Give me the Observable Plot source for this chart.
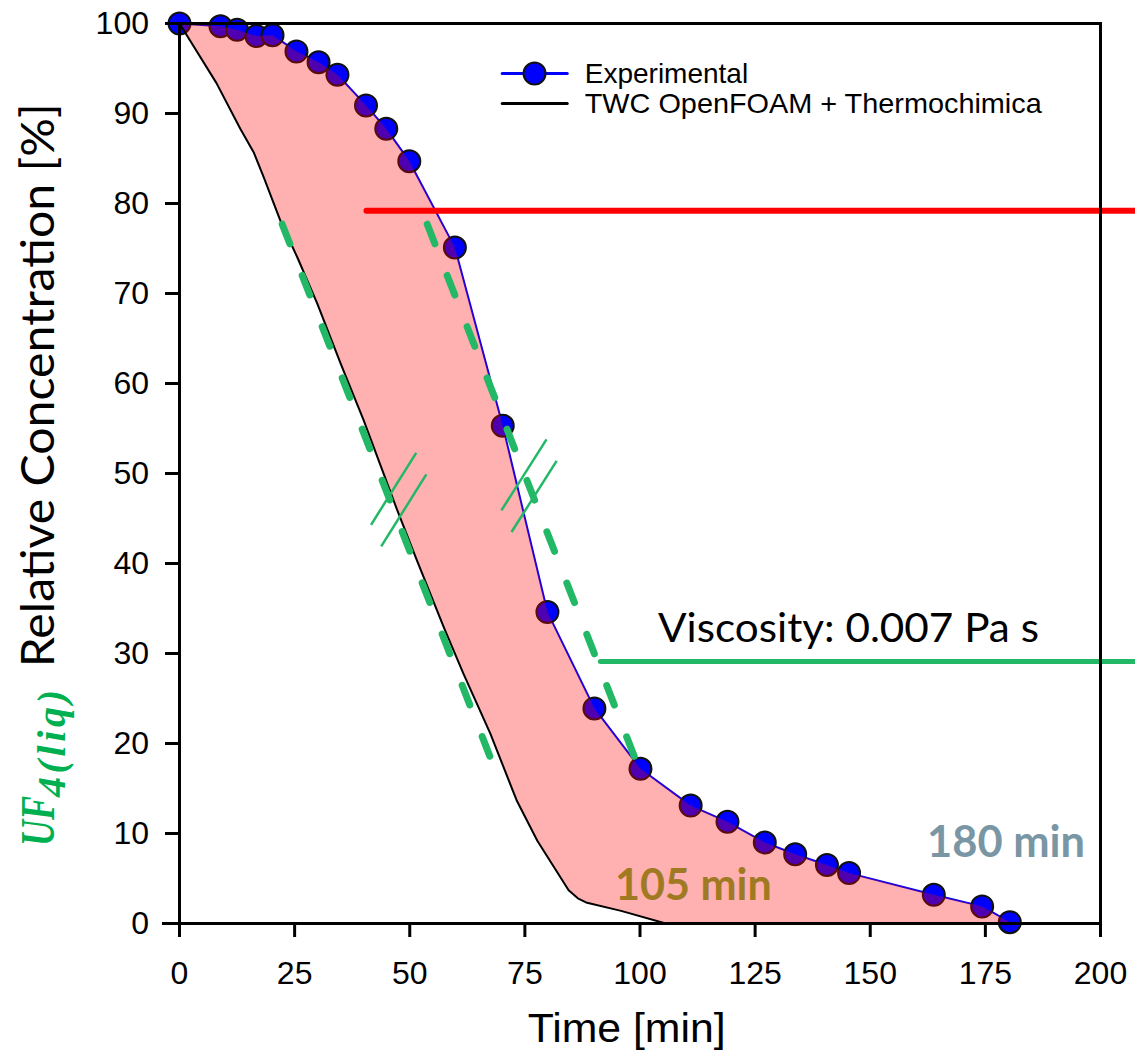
<!DOCTYPE html>
<html><head><meta charset="utf-8">
<script src="https://cdn.jsdelivr.net/npm/d3@7"></script>
<script src="https://cdn.jsdelivr.net/npm/@observablehq/plot@0.6"></script>
<style>body{margin:0;background:#fff;} #chart svg{display:block;}</style>
</head><body><div id="chart"></div>
<script>
// ---- data ----
const expTime = [0, 8.9, 12.5, 16.7, 20.2, 25.4, 30.2, 34.3, 40.5, 44.9, 49.9, 59.8, 70.2, 79.9, 90.1, 100.1, 111.0, 119.0, 127.1, 133.7, 140.6, 145.4, 163.8, 174.3, 180.3];
const expConc = [100, 99.7, 99.3, 98.6, 98.7, 96.9, 95.7, 94.3, 90.9, 88.3, 84.7, 75.1, 55.3, 34.6, 23.9, 17.2, 13.1, 11.3, 9.0, 7.7, 6.5, 5.6, 3.2, 1.9, 0.15];
const simTime = [0, 8, 13.2, 16.1, 18.3, 21.9, 25.6, 29.9, 35.0, 40.0, 47.3, 51.6, 57.4, 61.7, 67.5, 73.2, 77.7, 84.5, 86.5, 88.5, 95.9, 105.6];
const simConc = [100, 93.4, 88.3, 85.7, 82.9, 78.1, 74.0, 68.9, 62.2, 55.9, 45.9, 40.3, 32.9, 27.7, 21.1, 13.7, 9.2, 3.7, 2.8, 2.3, 1.4, 0];
const seriesNames = ["Experimental", "TWC OpenFOAM + Thermochimica"];
const xTicks = [0, 25, 50, 75, 100, 125, 150, 175, 200];
const yTicks = [0, 10, 20, 30, 40, 50, 60, 70, 80, 90, 100];
const tangentLeftTime = [22.3, 68.6];
const tangentLeftConc = [77.7, 17.0];
const tangentRightTime = [53.8, 100.1];
const tangentRightConc = [77.7, 16.8];
const slashTime1 = [41.6, 43.8, 69.9, 72.1];
const slashConc1 = [44.3, 41.9, 45.9, 43.5];
const slashTime2 = [51.4, 53.6, 79.7, 81.9];
const slashConc2 = [52.3, 49.9, 53.8, 51.4];
const redLevel = 79.2;
const viscLevel = 29.1;
const annotations = ["Viscosity: 0.007 Pa s", "105 min", "180 min"];

// ---- tables ----
const exp = expTime.map((t, i) => ({t, c: expConc[i]}));
const sim = simTime.map((t, i) => ({t, c: simConc[i]}));
const band = exp.concat(sim.slice().reverse());
const tanL = tangentLeftTime.map((t, i) => ({t, c: tangentLeftConc[i]}));
const tanR = tangentRightTime.map((t, i) => ({t, c: tangentRightConc[i]}));
const slashes = slashTime1.map((t, i) => ({t1: t, c1: slashConc1[i], t2: slashTime2[i], c2: slashConc2[i]}));

const GREEN = "#22b866";
const TXT_GREEN = "#00b050";

const plot = Plot.plot({
  width: 1135,
  height: 1051,
  marginTop: 23,
  marginLeft: 179,
  marginRight: 35,
  marginBottom: 128,
  x: {domain: [0, 200], axis: null},
  y: {domain: [0, 100], axis: null},
  style: {fontFamily: "Liberation Sans, Arial, sans-serif", fontSize: "32px", color: "black", background: "white", overflow: "visible"},
  marks: [
    // experimental line + dots
    Plot.line(exp, {x: "t", y: "c", stroke: "#0000ff", strokeWidth: 2}),
    Plot.dot(exp, {x: "t", y: "c", r: 11, fill: "#0000ff", stroke: "#111", strokeWidth: 2}),
    // shaded band between the curves (semi-transparent, over the dots)
    Plot.line(band, {x: "t", y: "c", fill: "#ff0000", fillOpacity: 0.31, stroke: "none", curve: "linear-closed"}),
    // simulation line
    Plot.line(sim, {x: "t", y: "c", stroke: "#000", strokeWidth: 2}),
    // tangents
    Plot.line(tanL, {x: "t", y: "c", stroke: GREEN, strokeWidth: 7, strokeDasharray: "21,34", strokeLinecap: "round"}),
    Plot.line(tanR, {x: "t", y: "c", stroke: GREEN, strokeWidth: 7, strokeDasharray: "21,34", strokeLinecap: "round"}),
    Plot.link(slashes, {x1: "t1", y1: "c1", x2: "t2", y2: "c2", stroke: GREEN, strokeWidth: 2.5}),
    // horizontal markers
    Plot.line([{t: 40.6, c: redLevel}, {t: 208, c: redLevel}], {x: "t", y: "c", stroke: "#ff0000", strokeWidth: 6, strokeLinecap: "round"}),
    Plot.line([{t: 91.4, c: viscLevel}, {t: 208, c: viscLevel}], {x: "t", y: "c", stroke: GREEN, strokeWidth: 5}),
    // frame and axes
    Plot.frame({stroke: "#000", strokeWidth: 3}),
    Plot.ruleY([0], {x1: -3.7, x2: 200, stroke: "#000", strokeWidth: 3}),
    Plot.axisX(xTicks, {tickSize: 14, tickPadding: 24, strokeWidth: 3, fontSize: 32, fill: "#000"}),
    Plot.axisY(yTicks, {tickSize: 14, tickPadding: 16.5, strokeWidth: 3, fontSize: 32, fill: "#000"}),
    Plot.text(["Time [min]"], {x: 97.1, y: -11.76, fontSize: 40, fill: "#000"}),
    Plot.text(["Relative Concentration [%]"], {x: -30.55, y: 59.8, rotate: -90, fontSize: 46, fontFamily: "Lato, sans-serif", fill: "#000"}),
    Plot.text(["UF"], {x: -30.6, y: 11.4, rotate: -90, fontSize: 48, fontFamily: "Liberation Serif, serif", fontWeight: "bold", fontStyle: "italic", fill: TXT_GREEN}),
    Plot.text(["4(liq)"], {x: -27.6, y: 20.0, rotate: -90, fontSize: 40, fontFamily: "Liberation Serif, serif", fontWeight: "bold", fontStyle: "italic", fill: TXT_GREEN}),
    // annotations
    Plot.text([annotations[0]], {x: 103.9, y: 32.7, textAnchor: "start", fontSize: 41, fontFamily: "Lato, sans-serif", fill: "#000"}),
    Plot.text([annotations[1]], {x: 111.6, y: 4.1, fontSize: 43, fontFamily: "Lato, sans-serif", fontWeight: "bold", fill: "#a07a22"}),
    Plot.text([annotations[2]], {x: 179.5, y: 8.9, fontSize: 43, fontFamily: "Lato, sans-serif", fontWeight: "bold", fill: "#7896a4"}),
    // legend
    Plot.line([{t: 70.07, c: 94.44}, {t: 84.2, c: 94.44}], {x: "t", y: "c", stroke: "#0000ff", strokeWidth: 3}),
    Plot.dot([{t: 77.1, c: 94.44}], {x: "t", y: "c", r: 11, fill: "#0000ff", stroke: "#111", strokeWidth: 2}),
    Plot.line([{t: 70.07, c: 91.1}, {t: 84.2, c: 91.1}], {x: "t", y: "c", stroke: "#000", strokeWidth: 3}),
    Plot.text([seriesNames[0]], {x: 88.0, y: 94.44, textAnchor: "start", fontSize: 28, fill: "#000"}),
    Plot.text([seriesNames[1]], {x: 88.0, y: 91.1, textAnchor: "start", fontSize: 28, fill: "#000"})
  ]
});
document.getElementById("chart").append(plot);

const fits = {
  "Relative Concentration [%]": [564, "spacingAndGlyphs"],
  "UF": [50, "spacingAndGlyphs"],
  "4(liq)": [107, "spacing"],
  "Viscosity: 0.007 Pa s": [381, "spacingAndGlyphs"],
  "105 min": [157, "spacingAndGlyphs"],
  "180 min": [158, "spacingAndGlyphs"],
  "Time [min]": [198, "spacingAndGlyphs"],
  "TWC OpenFOAM + Thermochimica": [457, "spacingAndGlyphs"]
};
plot.querySelectorAll("text").forEach(el => {
  const f = fits[el.textContent];
  if (f) { el.setAttribute("textLength", f[0]); el.setAttribute("lengthAdjust", f[1]); }
});
</script>
</body></html>
